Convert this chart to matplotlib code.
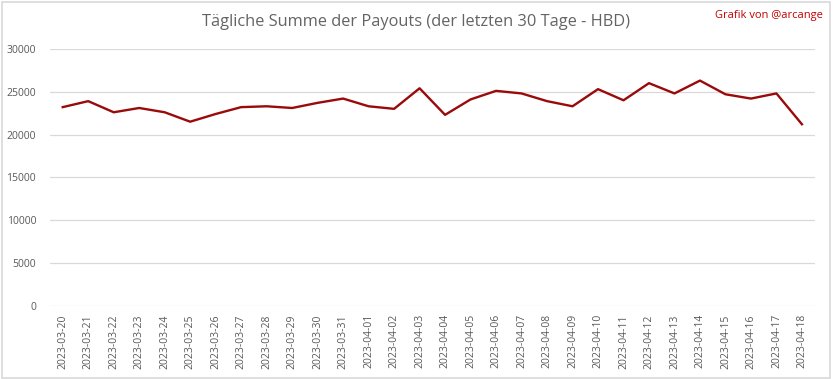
import matplotlib.pyplot as plt
from matplotlib.patches import Rectangle
import pandas as pd

dates = [d.strftime('%Y-%m-%d') for d in pd.date_range('2023-03-20', '2023-04-18')]
payouts = [23200, 23900, 22600, 23100, 22600, 21500, 22400, 23200, 23300, 23100,
           23700, 24200, 23300, 23000, 25400, 22300, 24100, 25100, 24800, 23900,
           23300, 25300, 24000, 26000, 24800, 26300, 24700, 24200, 24800, 21200]

plt.rcParams['font.family'] = ['Open Sans', 'DejaVu Sans']

fig = plt.figure(figsize=(8.33, 3.79), dpi=100)
ax = fig.add_axes([0.06, 0.193, 0.918, 0.678])

x = list(range(len(dates)))
ax.plot(x, payouts, color='#9a0a0a', linewidth=1.7)

ax.set_xlim(-0.5, len(dates) - 0.5)
ax.set_ylim(0, 30000)
ax.set_yticks(range(0, 30001, 5000))
ax.set_xticks(x)
ax.set_xticklabels(dates, rotation=90, fontsize=7.5, color='#595959')
ax.tick_params(axis='y', labelsize=7.5, labelcolor='#595959', length=0, pad=10)
ax.tick_params(axis='x', length=0, pad=6)
ax.grid(axis='y', color='#d9d9d9', linewidth=0.9)
ax.set_axisbelow(True)
for s in ax.spines.values():
    s.set_visible(False)

fig.text(0.5, 0.942, 'Tägliche Summe der Payouts (der letzten 30 Tage - HBD)',
         ha='center', va='center', fontsize=11.8, color='#646464')
fig.text(0.988, 0.958, 'Grafik von @arcange', ha='right', va='center',
         fontsize=8, color='#c00000')

fig.patches.append(Rectangle((0.002, 0.003), 0.994, 0.993, transform=fig.transFigure,
                             fill=False, edgecolor='#d9d9d9', linewidth=1.2))

fig.savefig('out.png', dpi=100)
